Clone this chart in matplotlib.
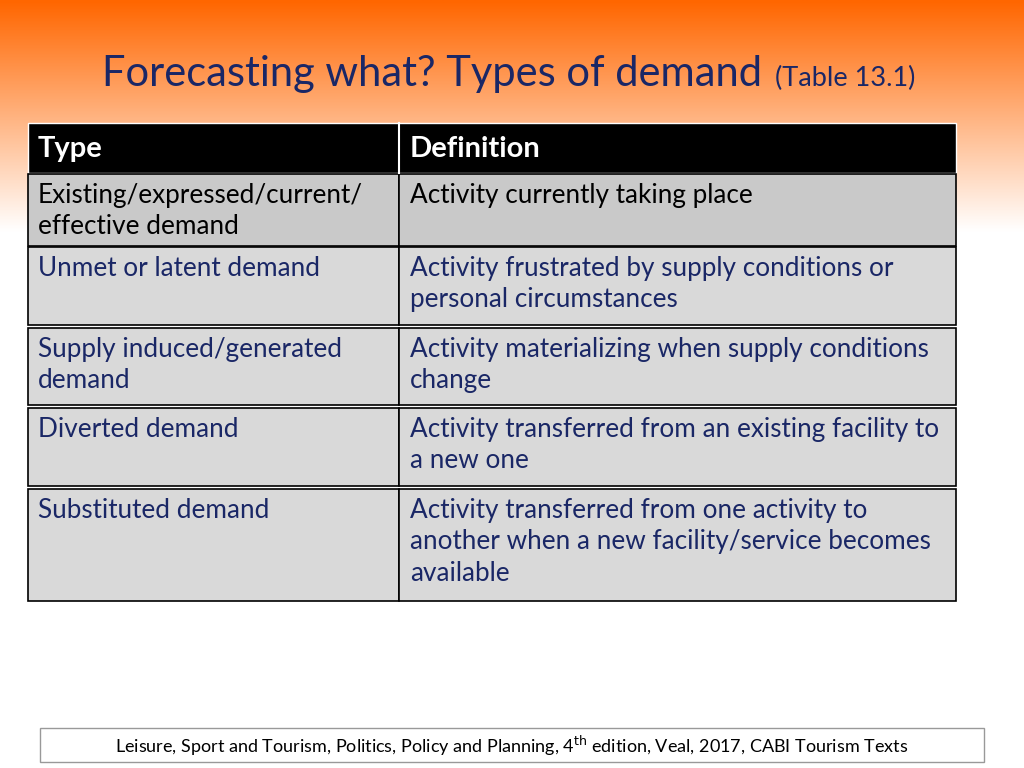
import matplotlib
matplotlib.use("Agg")
import matplotlib.pyplot as plt
import numpy as np
from matplotlib.patches import Rectangle

plt.rcParams['font.family'] = ['Lato', 'DejaVu Sans']

title = "Forecasting what? Types of demand"
subtitle = "(Table 13.1)"
headers = ["Type", "Definition"]
types = ["Existing/expressed/current/\neffective demand", "Unmet or latent demand",
         "Supply induced/generated\ndemand", "Diverted demand", "Substituted demand"]
definitions = ["Activity currently taking place",
               "Activity frustrated by supply conditions or\npersonal circumstances",
               "Activity materializing when supply conditions\nchange",
               "Activity transferred from an existing facility to\na new one",
               "Activity transferred from one activity to\nanother when a new facility/service becomes\navailable"]
row_tops = [174, 247, 328, 408, 489]
row_bots = [246, 325, 405, 486, 601]
footer = "Leisure, Sport and Tourism, Politics, Policy and Planning, 4$^{\\mathrm{th}}$ edition, Veal, 2017, CABI Tourism Texts"

fig = plt.figure(figsize=(10.24, 7.68), dpi=100)
ax = fig.add_axes([0, 0, 1, 1])
ax.set_xlim(0, 1024); ax.set_ylim(768, 0); ax.axis('off')

grad = np.linspace(0, 1, 256)
top = np.array([1.0, 0.40, 0.0]); bot = np.array([1.0, 1.0, 1.0])
t = np.clip(grad / 0.30, 0, 1)[:, None]
img = (top * (1 - t) + bot * t)[:, None, :].repeat(2, axis=1)
ax.imshow(img, extent=[0, 1024, 768, 0], aspect='auto', zorder=0)

navy = "#1a2766"
ax.text(762, 74, title, ha='right', va='center', fontsize=30, color=navy)
ax.text(775, 78, subtitle, ha='left', va='center', fontsize=19.5, color=navy)

x0, xm, x1 = 28, 399, 956
ax.add_patch(Rectangle((x0, 123), x1 - x0, 50, facecolor='black', edgecolor='white', lw=1, zorder=2))
ax.plot([xm, xm], [123, 173], color='white', lw=1.5, zorder=3)
ax.text(38, 149, headers[0], color='white', fontsize=21, fontweight='bold', va='center', zorder=4)
ax.text(410, 149, headers[1], color='white', fontsize=21, fontweight='bold', va='center', zorder=4)

for i, (ty, df, yt, yb) in enumerate(zip(types, definitions, row_tops, row_bots)):
    fc = "#c9c9c9" if i == 0 else "#d9d9d9"
    tc = "black" if i == 0 else navy
    ax.add_patch(Rectangle((x0, yt), xm - x0, yb - yt, facecolor=fc, edgecolor='black', lw=1.2, zorder=2))
    ax.add_patch(Rectangle((xm, yt), x1 - xm, yb - yt, facecolor=fc, edgecolor='black', lw=1.2, zorder=2))
    ax.text(38, yt + 9, ty, color=tc, fontsize=18.8, va='top', linespacing=1.32, zorder=4)
    ax.text(410, yt + 9, df, color=tc, fontsize=18.8, va='top', linespacing=1.32, zorder=4)

ax.add_patch(Rectangle((40, 728), 944, 34, facecolor='white', edgecolor='#999999', lw=1, zorder=2))
ax.text(512, 746, footer, ha='center', va='center', fontsize=13, color='black', zorder=4)

fig.savefig("out.png", dpi=100)
